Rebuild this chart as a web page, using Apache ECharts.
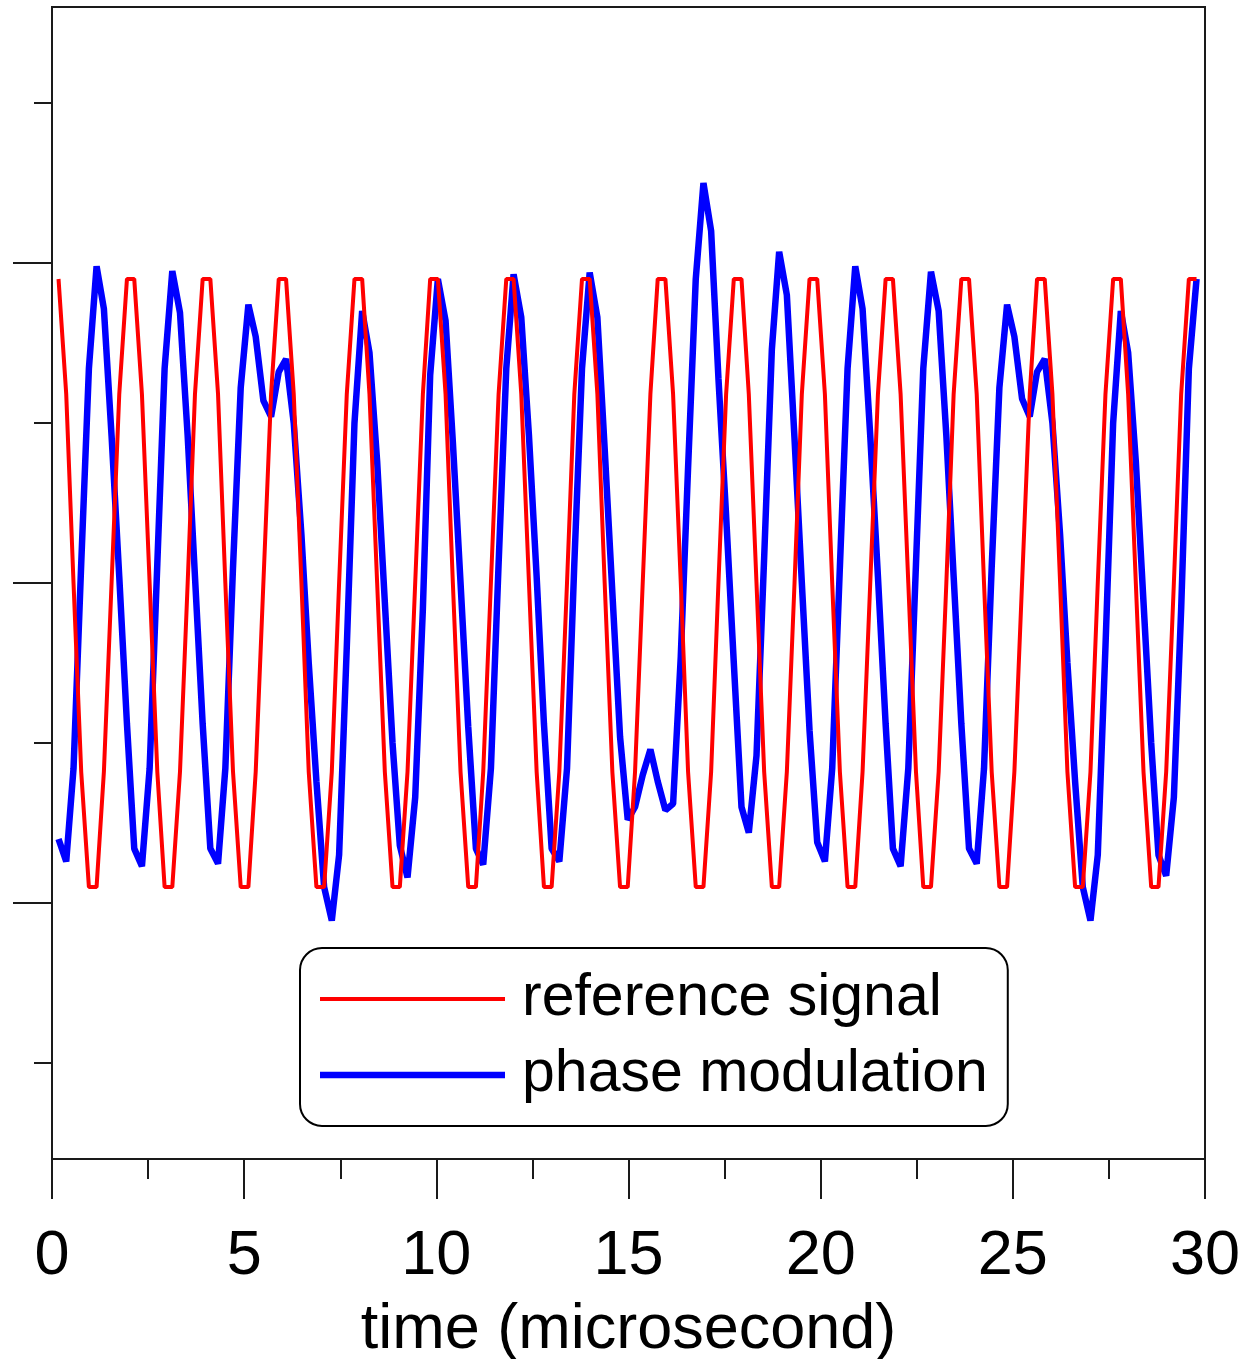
<!DOCTYPE html>
<html>
<head>
<meta charset="utf-8">
<script src="https://cdn.jsdelivr.net/npm/echarts@6/dist/echarts.min.js"></script>
<style>
html,body{margin:0;padding:0;background:#fff;}
#chart{width:1249px;height:1359px;}
</style>
</head>
<body>
<div id="chart"></div>
<script>
// sample times (microsecond)
const times = [
0.17,0.37,0.56,0.76,0.96,1.16,1.35,1.55,1.75,1.95,
2.14,2.34,2.54,2.74,2.93,3.13,3.33,3.53,3.72,3.92,
4.12,4.32,4.51,4.71,4.91,5.11,5.30,5.50,5.70,5.90,
6.09,6.29,6.49,6.68,6.88,7.08,7.28,7.47,7.67,7.87,
8.07,8.26,8.46,8.66,8.86,9.05,9.25,9.45,9.65,9.84,
10.04,10.24,10.43,10.63,10.83,11.03,11.22,11.42,11.62,11.82,
12.01,12.21,12.41,12.61,12.80,13.00,13.20,13.40,13.59,13.79,
13.99,14.19,14.38,14.58,14.78,14.98,15.17,15.37,15.57,15.76,
15.96,16.16,16.36,16.55,16.75,16.95,17.15,17.34,17.54,17.74,
17.94,18.13,18.33,18.53,18.73,18.92,19.12,19.32,19.51,19.71,
19.91,20.11,20.30,20.50,20.70,20.90,21.09,21.29,21.49,21.69,
21.88,22.08,22.28,22.48,22.67,22.87,23.07,23.27,23.46,23.66,
23.86,24.06,24.25,24.45,24.65,24.85,25.04,25.24,25.44,25.63,
25.83,26.03,26.23,26.42,26.62,26.82,27.02,27.21,27.41,27.61,
27.81,28.00,28.20,28.40,28.60,28.79,28.99,29.19,29.38,29.58,
29.78
];
const referenceSignal = [
0.95,0.59,0,-0.59,-0.95,-0.95,-0.59,0,0.59,0.95,
0.95,0.59,0,-0.59,-0.95,-0.95,-0.59,0,0.59,0.95,
0.95,0.59,0,-0.59,-0.95,-0.95,-0.59,0,0.59,0.95,
0.95,0.59,0,-0.59,-0.95,-0.95,-0.59,0,0.59,0.95,
0.95,0.59,0,-0.59,-0.95,-0.95,-0.59,0,0.59,0.95,
0.95,0.59,0,-0.59,-0.95,-0.95,-0.59,0,0.59,0.95,
0.95,0.59,0,-0.59,-0.95,-0.95,-0.59,0,0.59,0.95,
0.95,0.59,0,-0.59,-0.95,-0.95,-0.59,0,0.59,0.95,
0.95,0.59,0,-0.59,-0.95,-0.95,-0.59,0,0.59,0.95,
0.95,0.59,0,-0.59,-0.95,-0.95,-0.59,0,0.59,0.95,
0.95,0.59,0,-0.59,-0.95,-0.95,-0.59,0,0.59,0.95,
0.95,0.59,0,-0.59,-0.95,-0.95,-0.59,0,0.59,0.95,
0.95,0.59,0,-0.59,-0.95,-0.95,-0.59,0,0.59,0.95,
0.95,0.59,0,-0.59,-0.95,-0.95,-0.59,0,0.59,0.95,
0.95,0.59,0,-0.59,-0.95,-0.95,-0.59,0,0.59,0.95,
0.95
];
const phaseModulation = [
-0.80,-0.87,-0.58,0.06,0.67,0.99,0.857,0.46,0.02,-0.44,
-0.83,-0.885,-0.58,0.06,0.67,0.975,0.845,0.46,0.02,-0.44,
-0.83,-0.877,-0.58,0.05,0.61,0.87,0.77,0.57,0.52,0.66,
0.70,0.50,0.15,-0.25,-0.62,-0.95,-1.055,-0.85,-0.20,0.50,
0.85,0.72,0.38,-0.06,-0.50,-0.82,-0.92,-0.67,-0.08,0.65,
0.95,0.82,0.44,0.00,-0.45,-0.83,-0.88,-0.58,0.06,0.67,
0.965,0.83,0.46,0.02,-0.44,-0.83,-0.87,-0.58,0.06,0.67,
0.97,0.83,0.42,-0.03,-0.48,-0.74,-0.70,-0.60,-0.52,-0.62,
-0.71,-0.69,-0.23,0.36,0.95,1.25,1.10,0.64,0.21,-0.25,
-0.70,-0.78,-0.54,0.08,0.73,1.035,0.90,0.45,0.00,-0.46,
-0.81,-0.87,-0.58,0.05,0.67,0.99,0.857,0.46,0.02,-0.44,
-0.83,-0.885,-0.58,0.06,0.67,0.973,0.85,0.46,0.02,-0.44,
-0.83,-0.877,-0.58,0.05,0.61,0.87,0.77,0.576,0.52,0.66,
0.70,0.50,0.15,-0.25,-0.62,-0.95,-1.055,-0.85,-0.20,0.50,
0.85,0.72,0.38,-0.06,-0.50,-0.85,-0.915,-0.67,-0.08,0.67,
0.95
];
const xTickLabels = ['0','5','10','15','20','25','30'];
const yMajorTicks = [-1, 0, 1];
const yMinorTicks = [-1.5, -0.5, 0.5, 1.5];
const seriesNames = ['reference signal', 'phase modulation'];

const FONT = '"Liberation Sans", Arial, sans-serif';
const refData = times.map((t, i) => [t, referenceSignal[i]]);
const pmData = times.map((t, i) => [t, phaseModulation[i]]);

const chart = echarts.init(document.getElementById('chart'), null, {renderer: 'canvas'});
chart.setOption({
  animation: false,
  backgroundColor: '#ffffff',
  grid: {
    left: 52, top: 7, right: 44, bottom: 200,
    outerBoundsMode: 'none',
    containLabel: false,
    show: true, borderColor: '#1a1a1a', borderWidth: 2, backgroundColor: 'transparent'
  },
  legend: {
    data: [
      {name: seriesNames[0], icon: 'path://M0,0L185,0L185,4L0,4Z'},
      {name: seriesNames[1], icon: 'path://M0,0L185,0L185,6.5L0,6.5Z'}
    ],
    orient: 'vertical',
    left: 300, top: 948,
    padding: [21, 20, 21, 20],
    itemGap: 16,
    itemWidth: 185,
    itemHeight: 22,
    borderColor: '#000',
    borderWidth: 2,
    borderRadius: 22,
    backgroundColor: '#fff',
    textStyle: {
      fontFamily: FONT, fontSize: 59, color: '#000',
      lineHeight: 60, padding: [0, 0, 0, 12]
    }
  },
  xAxis: {
    type: 'value', min: 0, max: 30, interval: 5,
    axisLine: {show: true, onZero: false, lineStyle: {color: '#1a1a1a', width: 2}},
    axisTick: {show: true, inside: false, length: 40, lineStyle: {color: '#1a1a1a', width: 2}},
    minorTick: {show: true, splitNumber: 2, length: 20, lineStyle: {color: '#1a1a1a', width: 2}},
    splitLine: {show: false},
    minorSplitLine: {show: false},
    axisLabel: {
      fontFamily: FONT, fontSize: 63, color: '#000', margin: 66,
      formatter: (v) => xTickLabels[Math.round(v / 5)]
    },
    name: 'time (microsecond)',
    nameLocation: 'middle',
    nameGap: 140,
    nameTextStyle: {fontFamily: FONT, fontSize: 63, color: '#000'}
  },
  yAxis: [{
    type: 'value', min: -1.8, max: 1.8,
    axisLine: {show: true, onZero: false, lineStyle: {color: '#1a1a1a', width: 2}},
    axisTick: {show: true, inside: false, length: 39, customValues: yMajorTicks, lineStyle: {color: '#1a1a1a', width: 2}},
    axisLabel: {show: false},
    splitLine: {show: false}
  }, {
    type: 'value', min: -1.8, max: 1.8, position: 'left', offset: 0,
    axisLine: {show: false, onZero: false},
    axisTick: {show: true, inside: false, length: 18, customValues: yMinorTicks, lineStyle: {color: '#1a1a1a', width: 2}},
    axisLabel: {show: false},
    splitLine: {show: false}
  }],
  series: [{
    name: seriesNames[1], type: 'line', data: pmData, yAxisIndex: 0,
    showSymbol: false, symbol: 'none', z: 2,
    lineStyle: {color: '#0000ff', width: 6.5},
    itemStyle: {color: '#0000ff'}
  }, {
    name: seriesNames[0], type: 'line', data: refData, yAxisIndex: 0,
    showSymbol: false, symbol: 'none', z: 3,
    lineStyle: {color: '#ff0000', width: 4},
    itemStyle: {color: '#ff0000'}
  }]
});
</script>
</body>
</html>
